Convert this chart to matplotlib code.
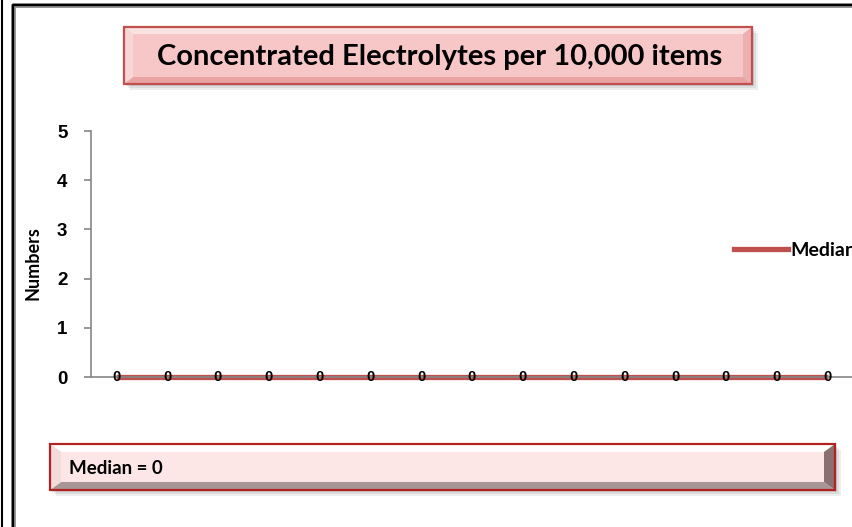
import numpy as np
import matplotlib.pyplot as plt
from matplotlib.patches import Polygon, Rectangle
from matplotlib.lines import Line2D

# ----- Data -----
categories = [str(i) for i in range(1, 16)]
median_values = [0, 0, 0, 0, 0, 0, 0, 0, 0, 0, 0, 0, 0, 0, 0]
series_name = "Median"
title_text = "Concentrated Electrolytes per 10,000 items"
footer_text = "Median = 0"
y_label = "Numbers"
y_ticks = [0, 1, 2, 3, 4, 5]

W, H = 852, 527
line_color = "#C0504D"

fig = plt.figure(figsize=(W / 100, H / 100), dpi=100)
fig.patch.set_facecolor("white")

# overlay in pixel coordinates for frames and boxes
bg = fig.add_axes([0, 0, 1, 1], zorder=0)
bg.set_xlim(0, W)
bg.set_ylim(H, 0)
bg.axis("off")


def bevel_box(x0, y0, x1, y1, b, face, top, bottom, left, right, edge, shadow=True):
    if shadow:
        for k, a in enumerate([0.10, 0.12, 0.15]):
            d = 6 - 2 * k
            bg.add_patch(Rectangle((x0 + d, y0 + d), x1 - x0, y1 - y0,
                                   facecolor="#606060", edgecolor="none", alpha=a))
    bg.add_patch(Rectangle((x0, y0), x1 - x0, y1 - y0, facecolor=face, edgecolor="none"))
    bx, by = b
    bg.add_patch(Polygon([(x0, y0), (x1, y0), (x1 - bx, y0 + by), (x0 + bx, y0 + by)],
                         facecolor=top, edgecolor="none"))
    bg.add_patch(Polygon([(x0, y1), (x1, y1), (x1 - bx, y1 - by), (x0 + bx, y1 - by)],
                         facecolor=bottom, edgecolor="none"))
    bg.add_patch(Polygon([(x0, y0), (x0 + bx, y0 + by), (x0 + bx, y1 - by), (x0, y1)],
                         facecolor=left, edgecolor="none"))
    bg.add_patch(Polygon([(x1, y0), (x1 - bx, y0 + by), (x1 - bx, y1 - by), (x1, y1)],
                         facecolor=right, edgecolor="none"))
    bg.add_patch(Rectangle((x0, y0), x1 - x0, y1 - y0, facecolor="none",
                           edgecolor=edge, linewidth=1.6))


# outer frame lines
bg.plot([1.5, 1.5], [0, H], color="black", lw=1.5)
bg.plot([13, 13, W + 5], [H + 5, 5, 5], color="#909090", lw=3.5, solid_capstyle="butt")
bg.plot([13, 13, W + 5], [H + 5, 5, 5], color="black", lw=1.6, solid_capstyle="butt")

# title box
bevel_box(124, 27, 752, 84, (9, 7), "#F7C6C6", "#FBE2E2", "#E9A3A3",
          "#F9D6D6", "#EDB0B0", "#C0504D")
bg.text(440, 57, title_text, ha="center", va="center", fontsize=21,
        fontweight="bold", family="Lato", color="black")

# footer box
bevel_box(50, 444, 835, 490, (11, 8), "#FDE6E6", "#FFFFFF", "#A89696",
          "#F5DADA", "#8A7070", "#B22222")
bg.text(69, 468, footer_text, ha="left", va="center", fontsize=13.5,
        fontweight="bold", family="Lato", color="black")

# ----- Main axes -----
left_px, right_px, y0_px, y5_px = 91, 853, 377, 131
ax = fig.add_axes([left_px / W, (H - y0_px) / H, (right_px - left_px) / W,
                   (y0_px - y5_px) / H], zorder=2)
ax.patch.set_alpha(0)

x = np.arange(len(categories))
ax.plot(x, median_values, color=line_color, lw=3.8, solid_capstyle="butt",
        clip_on=False)
for xi, v in zip(x, median_values):
    ax.text(xi, v, str(v), ha="center", va="center", fontsize=10.5,
            fontweight="bold", family="Liberation Sans", color="black")

ax.set_xlim(-0.5, len(categories) - 0.5)
ax.set_ylim(0, 5)
ax.set_yticks(y_ticks)
ax.set_yticklabels([str(t) for t in y_ticks], fontsize=13.5, fontweight="bold",
                   family="Liberation Sans")
ax.set_xticks([])
for s in ["top", "right"]:
    ax.spines[s].set_visible(False)
for s in ["left", "bottom"]:
    ax.spines[s].set_color("#868686")
    ax.spines[s].set_linewidth(1.2)
ax.tick_params(axis="y", length=5, width=1.2, color="#868686", pad=12)
ax.set_ylabel(y_label, fontsize=13, fontweight="bold", family="Lato")
ax.yaxis.set_label_coords((42 - left_px) / (right_px - left_px), 0.465)

# legend
handle = Line2D([], [], color=line_color, lw=3.8)
fig.legend([handle], [series_name], loc="center left",
           bbox_to_anchor=(716 / W, 1 - 250 / H), frameon=False,
           handlelength=2.8, handletextpad=0.15,
           prop={"family": "Lato", "weight": "bold", "size": 14})

fig.savefig("out.png", dpi=100)
